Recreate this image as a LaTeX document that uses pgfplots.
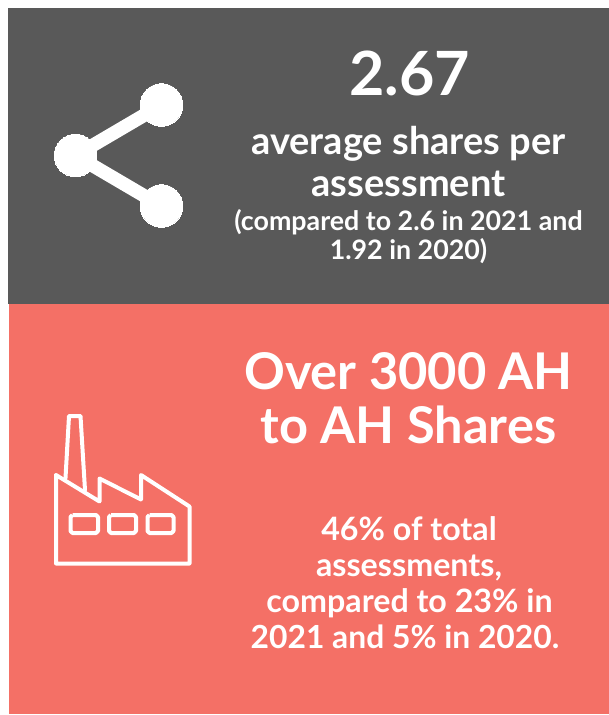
\documentclass[border=0pt]{standalone}
\usepackage{fontspec}
\setmainfont{Lato}
\usepackage{pgfplots}
\pgfplotsset{compat=1.18}
\definecolor{panelgrey}{HTML}{595959}
\definecolor{panelcoral}{HTML}{F47066}
% text helper: size in bp, anchored on baseline, in pixel coordinates
\newcommand{\txt}[4]{\node[anchor=base,text=white,inner sep=0pt,font=\fontsize{#1bp}{#1bp}\selectfont\bfseries] at (axis cs:#2,#3) {#4};}
\begin{document}
\begin{tikzpicture}
\begin{axis}[
    scale only axis,
    width=609bp, height=715bp,
    xmin=0, xmax=609, ymin=0, ymax=715,
    y dir=reverse,
    hide axis,
    clip=true,
]
% background panels
\addplot[fill=white, draw=none] coordinates {(0,0) (609,0) (609,715) (0,715)} --cycle;
\addplot[fill=panelgrey, draw=none] coordinates {(8,8) (609,8) (609,304) (8,304)} --cycle;
\addplot[fill=panelcoral, draw=none] coordinates {(9,304) (609,304) (609,714) (9,714)} --cycle;
% share icon
\addplot[white, line width=13.5bp] coordinates {(161.5,105) (75.5,155.5) (161.5,206)};
\addplot[only marks, white, mark=*, mark size=21.3bp, mark options={fill=white, draw=white, line width=0pt}] coordinates {(75.5,155.5) (161.5,105) (161.5,206)};
% factory icon
\addplot[white, line width=4bp, line join=round, line cap=round] coordinates {(56,475) (56,563.5) (189.5,563.5) (189.5,506.5) (141,475) (141,499.5) (99.5,478.5) (99.5,501.5) (56,475)};
\addplot[white, line width=4bp, line join=round, line cap=round] coordinates {(65.5,478) (69,416) (80.5,416) (85,490)};
\addplot[white, line width=4bp, line join=round] coordinates {(72.5,515) (96,515) (98,517) (98,531) (96,533) (72.5,533) (70.5,531) (70.5,517) (72.5,515)};
\addplot[white, line width=4bp, line join=round] coordinates {(111,515) (134,515) (136,517) (136,531) (134,533) (111,533) (109,531) (109,517) (111,515)};
\addplot[white, line width=4bp, line join=round] coordinates {(149.5,515) (171.5,515) (173.5,517) (173.5,531) (171.5,533) (149.5,533) (147.5,531) (147.5,517) (149.5,515)};
% upper text
\txt{61}{409.5}{96}{2.67}
\txt{38}{408.5}{155}{average shares per}
\txt{38}{408.5}{197}{assessment}
\txt{26.8}{408.5}{230}{(compared to 2.6 in 2021 and}
\txt{26.8}{408.5}{259}{1.92 in 2020)}
% lower text
\txt{50.6}{408.5}{389}{Over 3000 AH}
\txt{50.6}{408.5}{443.5}{to AH Shares}
\txt{32.2}{409}{540}{46\% of total}
\txt{32.2}{409}{576}{assessments,}
\txt{32.2}{409.5}{612}{compared to 23\% in}
\txt{31.8}{405}{648}{2021 and 5\% in 2020.}
\end{axis}
\end{tikzpicture}
\end{document}
